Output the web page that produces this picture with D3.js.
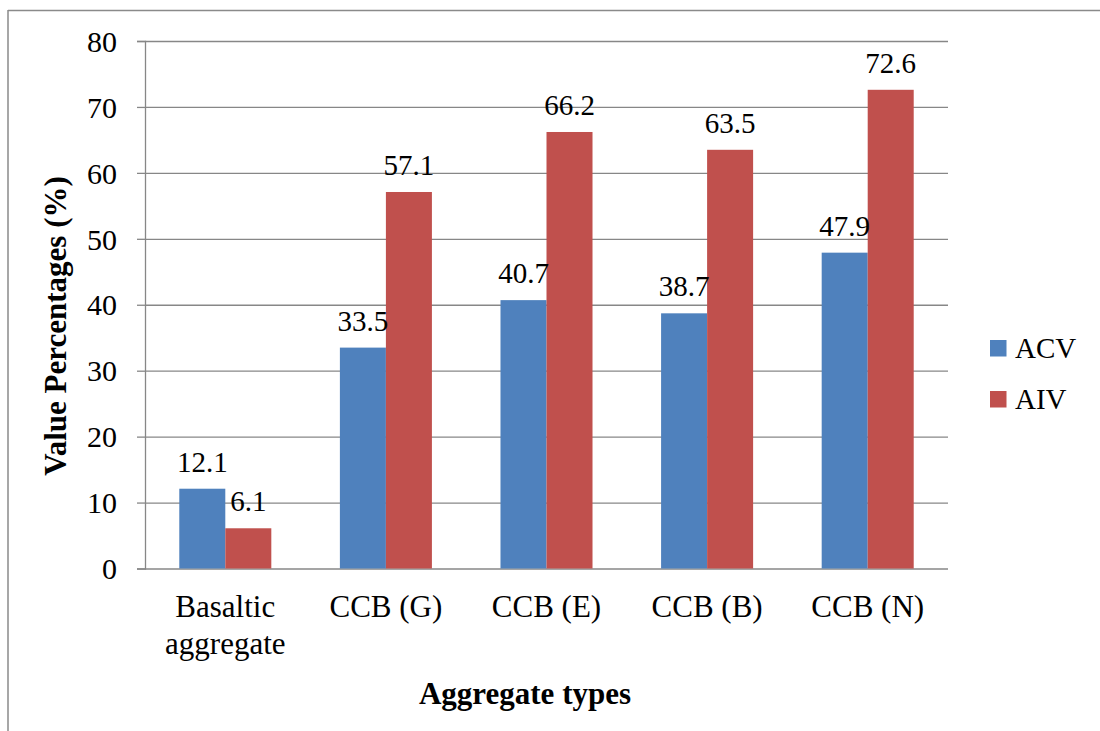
<!DOCTYPE html>
<html>
<head>
<meta charset="utf-8">
<script src="https://cdn.jsdelivr.net/npm/d3@7"></script>
<style>
  html, body { margin: 0; padding: 0; background: #fff; }
  svg text { font-family: "Liberation Serif", "Times New Roman", serif; }
</style>
</head>
<body>
<svg id="chart" width="1100" height="731"></svg>
<script>
// Aggregate test results (%)
const categories = [["Basaltic", "aggregate"], ["CCB (G)"], ["CCB (E)"], ["CCB (B)"], ["CCB (N)"]];
const seriesNames = ["ACV", "AIV"];
const acvValues = [12.1, 33.5, 40.7, 38.7, 47.9];
const aivValues = [6.1, 57.1, 66.2, 63.5, 72.6];
const yTicks = [0, 10, 20, 30, 40, 50, 60, 70, 80];
const colors = ["#4F81BD", "#C0504D"];

const FONT = "'Liberation Serif', 'Times New Roman', serif";
const svg = d3.select("#chart");
const plot = { left: 145, right: 948, top: 41, bottom: 568.5 };
const gridColor = "#878787";

// outer frame (top and left edges)
svg.append("line").attr("x1", 8).attr("x2", 1100).attr("y1", 10.5).attr("y2", 10.5)
  .attr("stroke", "#8a8a8a").attr("stroke-width", 1.5);
svg.append("line").attr("x1", 8).attr("x2", 8).attr("y1", 10).attr("y2", 731)
  .attr("stroke", "#8a8a8a").attr("stroke-width", 1.5);

const catKeys = categories.map((c, i) => i);
const x0 = d3.scaleBand().domain(catKeys).range([plot.left, plot.right])
  .paddingInner(0.427).paddingOuter(0.2135);
const x1 = d3.scaleBand().domain(seriesNames).range([0, x0.bandwidth()]);
const y = d3.scaleLinear().domain([0, 80]).range([plot.bottom, plot.top]);

// horizontal gridlines + y axis
const yAxis = d3.axisLeft(y).tickValues(yTicks).tickSize(8).tickPadding(20);
const yG = svg.append("g").attr("transform", `translate(${plot.left},0)`).call(yAxis)
  .attr("font-family", FONT).attr("font-size", 30);
yG.select(".domain").attr("stroke", gridColor).attr("stroke-width", 1.3);
yG.selectAll(".tick line").attr("stroke", gridColor).attr("stroke-width", 1.3);
yG.selectAll(".tick text").attr("fill", "#000").attr("dy", "0.34em");
yG.selectAll(".tick").append("line")
  .attr("x1", 0).attr("x2", plot.right - plot.left)
  .attr("stroke", gridColor).attr("stroke-width", 1.3);

// bars
const rows = catKeys.map(i => ({ i, vals: [acvValues[i], aivValues[i]] }));
const groups = svg.append("g").attr("font-family", FONT).selectAll("g").data(rows).join("g")
  .attr("transform", d => `translate(${x0(d.i)},0)`);
groups.selectAll("rect").data(d => d.vals.map((v, k) => ({ k, v }))).join("rect")
  .attr("x", d => x1(seriesNames[d.k]))
  .attr("width", x1.bandwidth())
  .attr("y", d => y(d.v))
  .attr("height", d => y(0) - y(d.v))
  .attr("fill", d => colors[d.k]);

// value labels
groups.selectAll("text").data(d => d.vals.map((v, k) => ({ k, v }))).join("text")
  .attr("x", d => x1(seriesNames[d.k]) + x1.bandwidth() / 2)
  .attr("y", d => y(d.v) - 17)
  .attr("text-anchor", "middle").attr("font-size", 29).attr("fill", "#000")
  .text(d => d.v.toFixed(1));

// category labels
const catG = svg.append("g").attr("font-family", FONT);
categories.forEach((lines, i) => {
  const t = catG.append("text")
    .attr("x", x0(i) + x0.bandwidth() / 2).attr("y", 617)
    .attr("text-anchor", "middle").attr("font-size", 31).attr("fill", "#000");
  lines.forEach((ln, j) => {
    t.append("tspan").attr("x", x0(i) + x0.bandwidth() / 2)
      .attr("dy", j === 0 ? 0 : 36.5).text(ln);
  });
});

// axis titles
svg.append("text").attr("x", 525).attr("y", 704).attr("text-anchor", "middle")
  .attr("font-family", FONT).attr("font-size", 31).attr("font-weight", "bold")
  .text("Aggregate types");
svg.append("text").attr("transform", "translate(66,326) rotate(-90)")
  .attr("text-anchor", "middle").attr("font-family", FONT).attr("font-size", 31)
  .attr("font-weight", "bold").text("Value Percentages (%)");

// legend
const legend = svg.append("g").attr("font-family", FONT);
seriesNames.forEach((name, k) => {
  const ly = 340 + k * 51;
  legend.append("rect").attr("x", 990).attr("y", ly).attr("width", 16.5).attr("height", 16.5)
    .attr("fill", colors[k]);
  legend.append("text").attr("x", 1015).attr("y", ly + 18).attr("font-size", 29)
    .attr("fill", "#000").text(name);
});
</script>
</body>
</html>
